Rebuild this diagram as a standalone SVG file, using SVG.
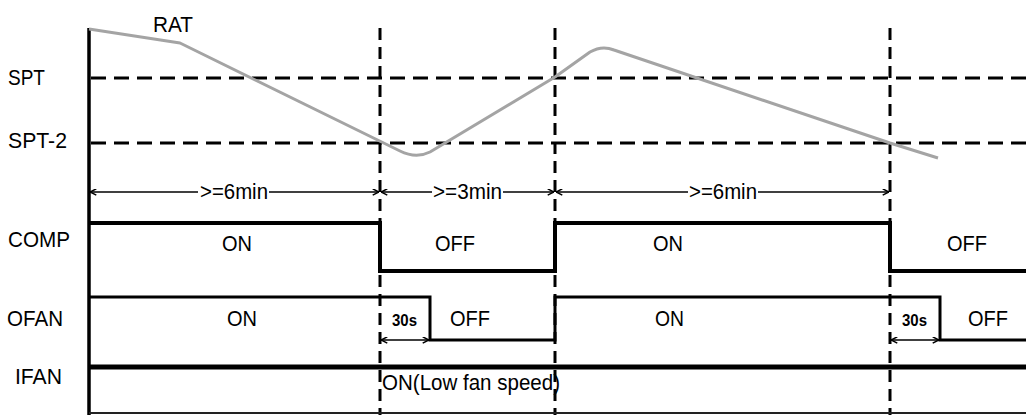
<svg xmlns="http://www.w3.org/2000/svg" width="1026" height="415" viewBox="0 0 1026 415">
<defs>
<style>
text{font-family:"Liberation Sans",Arial,sans-serif;font-size:22px;fill:#000}
.small{font-size:16px;font-weight:bold}
.hdash{stroke:#000;stroke-width:3;stroke-dasharray:15 8;fill:none}
.vdash{stroke:#000;stroke-width:3;stroke-dasharray:12 7;fill:none}
.sig{stroke:#000;fill:none;stroke-linejoin:miter}
.dim{stroke:#000;stroke-width:1.5;fill:none}
</style>
<marker id="ah" viewBox="0 0 10 10" refX="10" refY="5" markerWidth="7" markerHeight="7" markerUnits="userSpaceOnUse" orient="auto-start-reverse">
<polyline points="1,0.5 10,5 1,9.5" fill="none" stroke="#000" stroke-width="2.2"/>
</marker>
</defs>
<rect width="1026" height="415" fill="#fff"/>

<g id="labels">
<text x="153" y="32" textLength="40" lengthAdjust="spacingAndGlyphs">RAT</text>
<text x="8" y="85" textLength="37" lengthAdjust="spacingAndGlyphs">SPT</text>
<text x="8" y="148" textLength="59" lengthAdjust="spacingAndGlyphs">SPT-2</text>
<text x="8" y="247" textLength="62" lengthAdjust="spacingAndGlyphs">COMP</text>
<text x="7" y="326" textLength="56" lengthAdjust="spacingAndGlyphs">OFAN</text>
<text x="15" y="384" textLength="47" lengthAdjust="spacingAndGlyphs">IFAN</text>
</g>

<g id="grid">
<path class="hdash" d="M91 78H1026"/>
<path class="hdash" d="M91 143H1026"/>
<path class="vdash" d="M380 28V415"/>
<path class="vdash" d="M555 28V415"/>
<path class="vdash" d="M890 28V415"/>
<path d="M89 28V415" stroke="#000" stroke-width="3.5"/>
<path d="M89 413H1026" stroke="#222" stroke-width="1.8"/>
</g>

<g id="rat">
<path d="M89 29L180 43L400 151Q416 159 430 152L555 77L590 52Q602 45 614 50L890 143L938 158" fill="none" stroke="#a4a4a4" stroke-width="3" stroke-linejoin="round"/>
</g>

<g id="connectors">
<path class="dim" d="M90 192H198" marker-start="url(#ah)"/>
<path class="dim" d="M269 192H379" marker-end="url(#ah)"/>
<path class="dim" d="M381 192H432" marker-start="url(#ah)"/>
<path class="dim" d="M503 192H554" marker-end="url(#ah)"/>
<path class="dim" d="M556 192H688" marker-start="url(#ah)"/>
<path class="dim" d="M758 192H889" marker-end="url(#ah)"/>
<path class="dim" d="M381 340H429" marker-start="url(#ah)" marker-end="url(#ah)"/>
<path class="dim" d="M891 340H939" marker-start="url(#ah)" marker-end="url(#ah)"/>
</g>

<g id="intervals">
<text x="200" y="199" textLength="68" lengthAdjust="spacingAndGlyphs">&gt;=6min</text>
<text x="433" y="199" textLength="69" lengthAdjust="spacingAndGlyphs">&gt;=3min</text>
<text x="689" y="199" textLength="68" lengthAdjust="spacingAndGlyphs">&gt;=6min</text>
</g>

<g id="comp">
<path class="sig" stroke-width="4" d="M89 223H380V271H555V223H890V271H1026"/>
<text x="222" y="251" textLength="30" lengthAdjust="spacingAndGlyphs">ON</text>
<text x="435" y="251" textLength="40" lengthAdjust="spacingAndGlyphs">OFF</text>
<text x="653" y="251" textLength="30" lengthAdjust="spacingAndGlyphs">ON</text>
<text x="947" y="251" textLength="40" lengthAdjust="spacingAndGlyphs">OFF</text>
</g>

<g id="ofan">
<path class="sig" stroke-width="3" d="M89 297H430V340H555V297H940V340H1026"/>
<text x="227" y="326" textLength="30" lengthAdjust="spacingAndGlyphs">ON</text>
<text class="small" x="392" y="326" textLength="25" lengthAdjust="spacingAndGlyphs">30s</text>
<text x="450" y="326" textLength="40" lengthAdjust="spacingAndGlyphs">OFF</text>
<text x="655" y="326" textLength="29" lengthAdjust="spacingAndGlyphs">ON</text>
<text class="small" x="902" y="326" textLength="25" lengthAdjust="spacingAndGlyphs">30s</text>
<text x="968" y="326" textLength="40" lengthAdjust="spacingAndGlyphs">OFF</text>
</g>

<g id="ifan">
<path class="sig" stroke-width="5" d="M89 367H1026"/>
<text x="382" y="390" textLength="178" lengthAdjust="spacingAndGlyphs">ON(Low fan speed)</text>
</g>
</svg>
